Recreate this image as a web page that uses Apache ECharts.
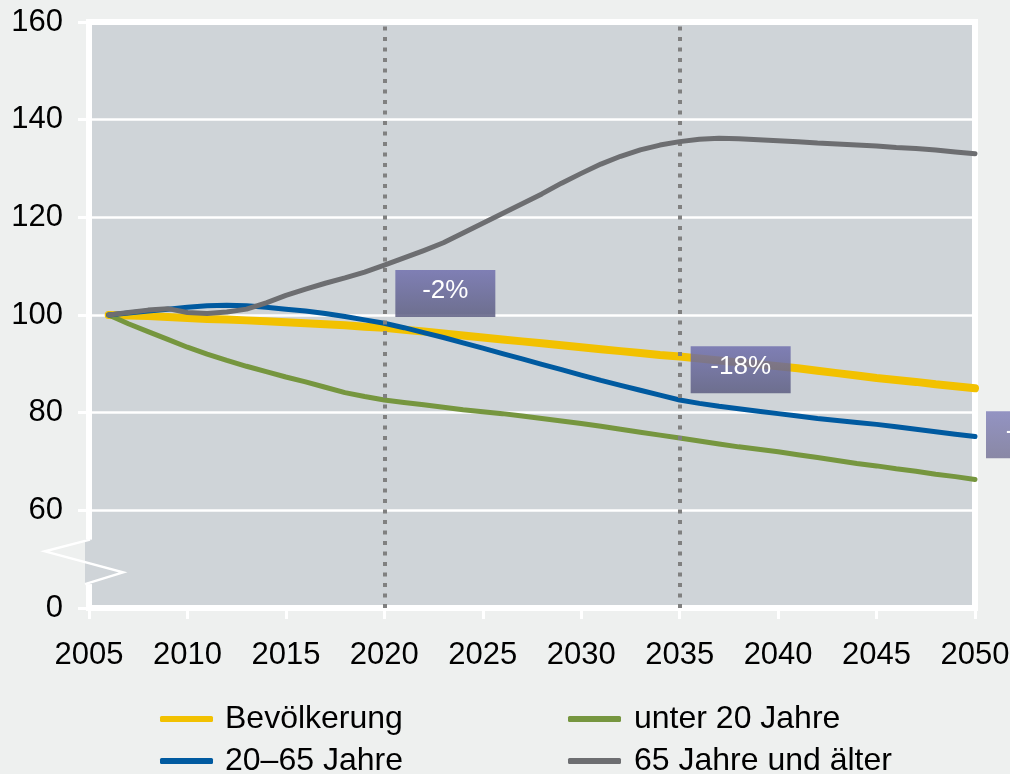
<!DOCTYPE html>
<html>
<head>
<meta charset="utf-8">
<script src="https://cdn.jsdelivr.net/npm/echarts@6/dist/echarts.min.js"></script>
<style>
  html, body { margin: 0; padding: 0; background: #eef0ef; }
  #chart { width: 1010px; height: 774px; }
</style>
</head>
<body>
<div id="chart"></div>
<script>
// Jahre (x-Achse)
var years = [2006, 2007, 2008, 2009, 2010, 2011, 2012, 2013, 2014, 2015,
             2016, 2017, 2018, 2019, 2020, 2021, 2022, 2023, 2024, 2025,
             2026, 2027, 2028, 2029, 2030, 2031, 2032, 2033, 2034, 2035,
             2036, 2037, 2038, 2039, 2040, 2041, 2042, 2043, 2044, 2045,
             2046, 2047, 2048, 2049, 2050];
var xTicks = [2005, 2010, 2015, 2020, 2025, 2030, 2035, 2040, 2045, 2050];
var yTicks = [0, 60, 80, 100, 120, 140, 160];

// Index 2006 = 100
var bevoelkerung = [100, 99.9, 99.8, 99.6, 99.4, 99.2, 99.1, 98.9, 98.7, 98.5,
                    98.3, 98.1, 97.9, 97.6, 97.4, 97.0, 96.6, 96.2, 95.8, 95.4,
                    95.0, 94.6, 94.2, 93.8, 93.4, 93.0, 92.6, 92.2, 91.8, 91.5,
                    91.1, 90.7, 90.3, 89.9, 89.5, 89.1, 88.6, 88.1, 87.6, 87.1,
                    86.7, 86.3, 85.8, 85.4, 85.0];
var jahre20bis65 = [100, 100.4, 100.8, 101.2, 101.6, 101.9, 102.0, 101.9, 101.6, 101.2,
                    100.8, 100.3, 99.7, 99.0, 98.3, 97.4, 96.4, 95.4, 94.3, 93.2,
                    92.1, 91.0, 89.9, 88.8, 87.7, 86.6, 85.6, 84.6, 83.6, 82.6,
                    81.9, 81.3, 80.8, 80.3, 79.8, 79.3, 78.8, 78.4, 78.0, 77.6,
                    77.1, 76.6, 76.1, 75.6, 75.1];
var unter20 = [100, 98.2, 96.6, 95.0, 93.4, 92.0, 90.7, 89.5, 88.4, 87.3,
               86.3, 85.2, 84.1, 83.3, 82.6, 82.1, 81.6, 81.1, 80.6, 80.2,
               79.8, 79.3, 78.8, 78.3, 77.8, 77.2, 76.6, 76.0, 75.4, 74.8,
               74.2, 73.6, 73.0, 72.5, 72.0, 71.4, 70.8, 70.2, 69.6, 69.1,
               68.5, 68.0, 67.4, 66.9, 66.3];
var ab65 = [100, 100.5, 101.0, 101.3, 100.5, 100.3, 100.6, 101.2, 102.5, 104.0,
            105.3, 106.5, 107.6, 108.8, 110.2, 111.7, 113.2, 114.8, 116.8, 118.8,
            120.8, 122.8, 124.8, 127.0, 129.0, 130.9, 132.5, 133.8, 134.8, 135.5,
            136.0, 136.2, 136.1, 135.9, 135.7, 135.5, 135.2, 135.0, 134.8, 134.6,
            134.3, 134.1, 133.8, 133.4, 133.0];

// Markierungen
var markYears = [2020, 2035];
var boxLabels = ['-2%', '-18%', '-25%'];
var boxAnchors = [[2020, 109.2], [2035, 93.6], [2050, 80.3]];

var plotColor = '#cfd4d8';
var fontFam = '"Liberation Sans", Arial, sans-serif';

var myChart = echarts.init(document.getElementById('chart'));

function mkSeries(name, vals, color, width, z) {
    return {
        name: name,
        type: 'line',
        data: years.map(function (y, i) { return [y, vals[i]]; }),
        symbol: 'none',
        showSymbol: false,
        z: z,
        lineStyle: { color: color, width: width, cap: 'round', join: 'round' },
        itemStyle: { color: color },
        emphasis: { disabled: true }
    };
}

var sGelb = mkSeries('Bevölkerung', bevoelkerung, '#f2c100', 8, 2);
var sGruen = mkSeries('unter 20 Jahre', unter20, '#76963f', 5, 3);
var sBlau = mkSeries('20–65 Jahre', jahre20bis65, '#005aa0', 5, 4);
var sGrau = mkSeries('65 Jahre und älter', ab65, '#6d6e71', 5, 5);
sGrau.markLine = {
    silent: true,
    symbol: ['none', 'none'],
    label: { show: false },
    lineStyle: { color: '#808080', width: 4, type: [4, 6.5] },
    data: markYears.map(function (y) { return { xAxis: y }; })
};

// ein Legendeneintrag pro Komponente, 2 Spalten x 2 Zeilen
function mkLegend(name, left, top, pad) {
    return {
        data: [name],
        left: left, top: top,
        itemWidth: 53, itemHeight: 6, icon: 'roundRect',
        selectedMode: false,
        textStyle: { color: '#000', fontSize: 32, lineHeight: 32, fontFamily: fontFam, padding: [0, 0, 0, pad] }
    };
}

myChart.setOption({
    backgroundColor: '#eef0ef',
    animation: false,
    textStyle: { fontFamily: fontFam },
    grid: {
        left: 89, right: 35, top: 22, bottom: 166,
        show: true,
        backgroundColor: plotColor,
        borderColor: '#fff',
        borderWidth: 6,
        outerBoundsMode: 'none'
    },
    legend: [
        mkLegend('Bevölkerung', 155, 698, 7),
        mkLegend('20–65 Jahre', 155, 740, 7),
        mkLegend('unter 20 Jahre', 563, 698, 8),
        mkLegend('65 Jahre und älter', 563, 740, 8)
    ],
    xAxis: {
        type: 'value',
        min: xTicks[0],
        max: xTicks[xTicks.length - 1],
        interval: 5,
        axisLine: { show: true, lineStyle: { color: '#fff', width: 6 } },
        axisTick: { show: true, length: 11, lineStyle: { color: '#fff', width: 3 } },
        axisLabel: { color: '#000', fontSize: 31, fontFamily: fontFam, margin: 32,
            formatter: function (v) { return String(v); } },
        splitLine: { show: false }
    },
    yAxis: {
        type: 'value',
        min: 40,
        max: yTicks[yTicks.length - 1],
        interval: 20,
        axisLine: { show: true, lineStyle: { color: '#fff', width: 6 } },
        axisTick: { show: true, length: 11, lineStyle: { color: '#fff', width: 3 } },
        axisLabel: { color: '#000', fontSize: 31, fontFamily: fontFam, margin: 26,
            // Achsenbruch: unterste Marke steht für 0
            formatter: function (v) { return v === 40 ? String(yTicks[0]) : String(v); } },
        splitLine: { show: true, lineStyle: { color: '#fff', width: 2.5 } }
    },
    series: [sGelb, sGruen, sBlau, sGrau]
});

function px(x, y) {
    return myChart.convertToPixel({ gridIndex: 0 }, [x, y]);
}

// Achsenbruch und Prozent-Kästen
var top1 = px(2005, 54), bot1 = px(2005, 44.9);
var x0 = top1[0];
var gfx = [
    { type: 'rect', z: 50, shape: { x: x0 - 4, y: top1[1], width: 8, height: bot1[1] - top1[1] },
      style: { fill: plotColor } },
    { type: 'polyline', z: 51,
      shape: { points: [[x0 + 1, top1[1]], [x0 - 44, top1[1] + 11.7], [x0 + 34, top1[1] + 32.7], [x0 - 4, bot1[1]]] },
      style: { stroke: '#fff', lineWidth: 2.5, fill: null } }
];
var boxColors = [
    ['rgba(113,112,174,0.85)', 'rgba(92,93,129,0.85)'],
    ['rgba(113,112,174,0.85)', 'rgba(92,93,129,0.85)'],
    ['rgba(131,131,187,0.85)', 'rgba(120,118,152,0.85)']
];
boxAnchors.forEach(function (a, i) {
    var p = px(a[0], a[1]);
    var bx = p[0] + 11, by = p[1];
    gfx.push({
        type: 'rect', z: 60,
        shape: { x: bx, y: by, width: 100, height: 47 },
        style: { fill: new echarts.graphic.LinearGradient(0, 0, 0, 1, [
            { offset: 0, color: boxColors[i][0] },
            { offset: 1, color: boxColors[i][1] }
        ]) }
    });
    gfx.push({
        type: 'text', z: 61,
        x: bx + 50, y: by + 21,
        style: { text: boxLabels[i], fill: '#fff', font: '26px ' + fontFam, align: 'center', verticalAlign: 'middle' }
    });
});
myChart.setOption({ graphic: gfx });
window.addEventListener('resize', myChart.resize);
</script>
</body>
</html>
